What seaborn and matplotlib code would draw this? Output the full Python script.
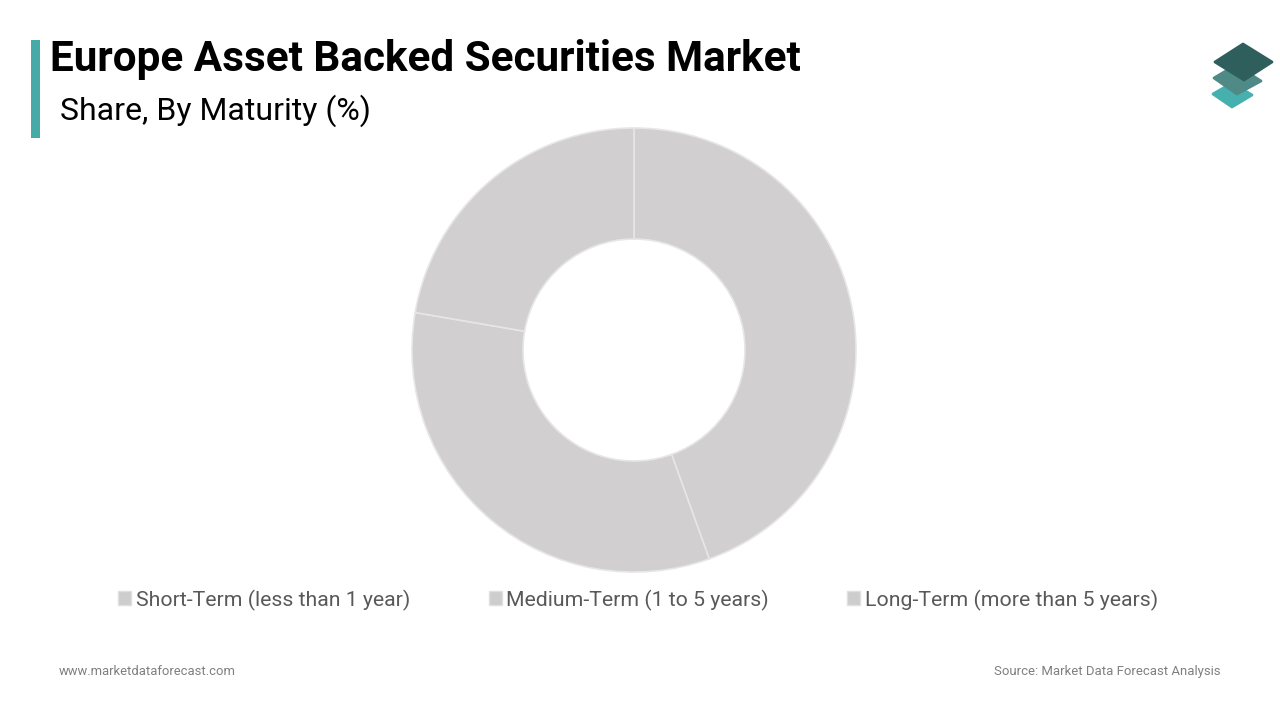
import matplotlib
matplotlib.use('Agg')
import matplotlib.pyplot as plt
from matplotlib.patches import Polygon, Rectangle
import seaborn as sb

maturity = ['Short-Term (less than 1 year)', 'Medium-Term (1 to 5 years)', 'Long-Term (more than 5 years)']
share = [44.5, 33.2, 22.3]

title = 'Europe Asset Backed Securities Market'
subtitle = 'Share, By Maturity (%)'
footer_left = 'www.marketdataforecast.com'
footer_right = 'Source: Market Data Forecast Analysis'

sb.set_theme(style='white')
plt.rcParams['font.family'] = ['Roboto', 'DejaVu Sans']

fig = plt.figure(figsize=(12.8, 7.2), dpi=100, facecolor='white')

# pixel overlay for the accent bar and the logo
bg = fig.add_axes([0, 0, 1, 1])
bg.set_xlim(0, 1280)
bg.set_ylim(720, 0)
bg.axis('off')
bg.add_patch(Rectangle((31, 40), 9, 98, color='#45aaa8', lw=0))
logo = dict(lw=2, joinstyle='round')
bg.add_patch(Polygon([(1213, 94), (1232, 83), (1252, 95), (1232, 107)], color='#45b0ae', **logo))
bg.add_patch(Polygon([(1214, 78), (1236, 65), (1261, 81), (1237, 94)], color='#4f8a87', **logo))
bg.add_patch(Polygon([(1215, 62), (1243, 44), (1272, 62), (1244, 80)], color='#2f5f5c', **logo))

# donut
ax = fig.add_axes([412 / 1280, 1 - 572 / 720, 444 / 1280, 444 / 720])
colors = sb.color_palette(['#d1cfd0'] * len(share))
wedges, _ = ax.pie(share, startangle=90, counterclock=False, colors=colors, radius=1,
                   wedgeprops=dict(width=0.5, edgecolor='#e6e6e6', linewidth=1.2))
ax.set_xlim(-1, 1)
ax.set_ylim(-1, 1)

leg = fig.legend(wedges, maturity, ncol=3, loc='center', bbox_to_anchor=(638 / 1280, 1 - 600 / 720),
                 frameon=False, fontsize=15.3, labelcolor='#595959', handlelength=0.62, handleheight=0.62,
                 handletextpad=0.2, columnspacing=3.7, borderpad=0)
for h in leg.legend_handles:
    h.set_facecolor('#cdcdcd')
    h.set_edgecolor('#e0e0e0')
    h.set_linewidth(1)

fig.text(50 / 1280, 1 - 60 / 720, title, fontsize=30.4, fontweight='bold', color='black', va='center', ha='left')
fig.text(60 / 1280, 1 - 111 / 720, subtitle, fontsize=23.05, color='black', va='center', ha='left')
fig.text(59 / 1280, 1 - 671.5 / 720, footer_left, fontsize=9.35, color='#7f7f7f', va='center', ha='left')
fig.text(1221 / 1280, 1 - 671 / 720, footer_right, fontsize=9.45, color='#7f7f7f', va='center', ha='right')

fig.savefig('out.png', dpi=100)
